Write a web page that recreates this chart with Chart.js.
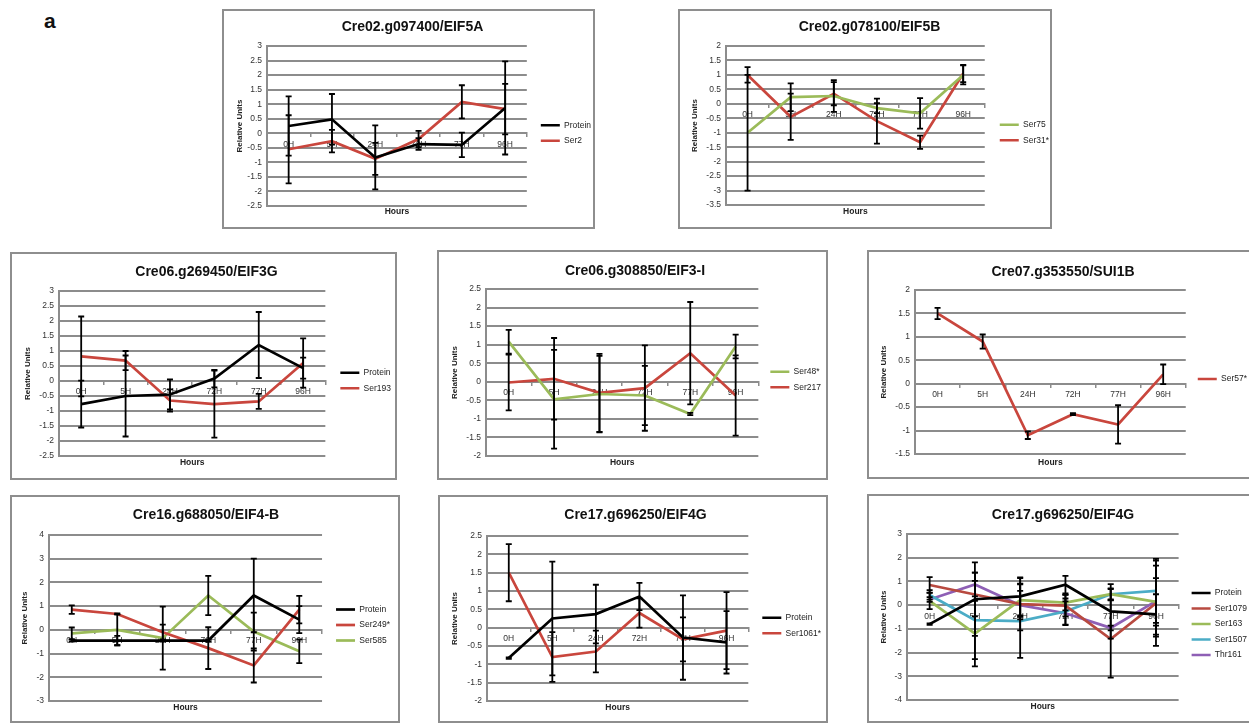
<!DOCTYPE html>
<html>
<head>
<meta charset="utf-8">
<script src="https://cdn.jsdelivr.net/npm/chart.js@4.4.1/dist/chart.umd.min.js"></script>
<style>
  body { margin: 0; background: #fff; width: 1249px; height: 725px; overflow: hidden; position: relative; font-family: "Liberation Sans", Arial, sans-serif; }
  .panel { position: absolute; border: 2px solid #8e8e8e; box-sizing: border-box; background: #fff; }
  .panel canvas { position: absolute; left: 0; top: 0; }
  .fig-label { position: absolute; left: 44px; top: 9px; font-weight: bold; font-size: 21px; color: #111; }
</style>
</head>
<body>
<div class="fig-label">a</div>
<div id="panels"></div>
<script>
// categories
const hours = ['0H', '5H', '24H', '72H', '77H', '96H']

// Cre02.g097400/EIF5A
const eif5aProtein = [0.25, 0.48, -0.83, -0.37, -0.40, 0.87]
const eif5aProteinErr = [1.02, 0.87, 1.10, 0.20, 0.42, 1.60]
const eif5aSer2 = [-0.55, -0.27, -0.88, -0.20, 1.08, 0.83]
const eif5aSer2Err = [1.17, 0.39, 0.55, 0.28, 0.57, 0.87]

// Cre02.g078100/EIF5B
const eif5bSer75 = [-1.0, 0.23, 0.27, -0.15, -0.33, 1.0]
const eif5bSer75Err = [2.0, 0.48, 0.55, 0.17, 0.53, 0.33]
const eif5bSer31 = [1.0, -0.45, 0.35, -0.60, -1.33, 1.05]
const eif5bSer31Err = [0.27, 0.80, 0.40, 0.78, 0.23, 0.30]

// Cre06.g269450/EIF3G
const eif3gProtein = [-0.77, -0.50, -0.45, 0.08, 1.20, 0.43]
const eif3gProteinErr = [0.78, 1.35, 0.50, 0.29, 1.10, 0.35]
const eif3gSer193 = [0.82, 0.68, -0.65, -0.77, -0.68, 0.60]
const eif3gSer193Err = [1.33, 0.32, 0.37, 1.12, 0.25, 0.82]

// Cre06.g308850/EIF3-I
const eif3iSer48 = [1.08, -0.47, -0.33, -0.37, -0.87, 0.95]
const eif3iSer48Err = [0.32, 1.33, 1.03, 0.80, 0.03, 0.32]
const eif3iSer217 = [-0.02, 0.08, -0.30, -0.17, 0.77, -0.37]
const eif3iSer217Err = [0.75, 1.10, 1.05, 1.15, 1.38, 1.08]

// Cre07.g353550/SUI1B
const sui1bSer57 = [1.50, 0.90, -1.10, -0.65, -0.87, 0.20]
const sui1bSer57Err = [0.12, 0.15, 0.08, 0.02, 0.41, 0.21]

// Cre16.g688050/EIF4-B
const eif4bProtein = [-0.45, -0.45, -0.45, -0.45, 1.45, 0.43]
const eif4bProteinErr = [0.05, 0.20, 0.05, 0.05, 1.55, 0.57]
const eif4bSer249 = [0.85, 0.67, -0.10, -0.77, -1.50, 0.85]
const eif4bSer249Err = [0.18, 0.02, 0.32, 0.88, 0.72, 0.58]
const eif4bSer585 = [-0.15, 0.0, -0.35, 1.45, -0.07, -0.90]
const eif4bSer585Err = [0.25, 0.65, 1.33, 0.83, 0.80, 0.50]

// Cre17.g696250/EIF4G (Ser1061)
const eif4gProtein = [-0.83, 0.25, 0.37, 0.85, -0.27, -0.40]
const eif4gProteinErr = [0.02, 1.55, 0.80, 0.37, 1.15, 0.85]
const eif4gSer1061 = [1.50, -0.80, -0.65, 0.40, -0.32, -0.08]
const eif4gSer1061Err = [0.78, 0.68, 0.57, 0.40, 0.60, 1.05]

// Cre17.g696250/EIF4G (other sites)
const eif4g2Protein = [-0.80, 0.25, 0.37, 0.86, -0.26, -0.39]
const eif4g2ProteinErr = [0.03, 1.55, 0.80, 0.37, 1.15, 0.85]
const eif4g2Ser1079 = [0.85, 0.45, 0.04, -0.02, -1.43, 0.08]
const eif4g2Ser1079Err = [0.33, 0.92, 1.10, 0.45, 1.63, 1.80]
const eif4g2Ser163 = [0.18, -1.20, 0.21, 0.11, 0.46, 0.14]
const eif4g2Ser163Err = [0.35, 1.38, 0.70, 0.33, 0.22, 1.00]
const eif4g2Ser1507 = [0.43, -0.63, -0.67, -0.27, 0.46, 0.60]
const eif4g2Ser1507Err = [0.20, 1.65, 1.55, 0.55, 0.25, 1.35]
const eif4g2Thr161 = [0.24, 0.87, 0.0, -0.34, -0.96, 0.17]
const eif4g2Thr161Err = [0.10, 0.50, 0.60, 0.50, 0.10, 1.50]

const BLACK = '#000000'
const RED = '#c9463d'
const DARKRED = '#b84a40'
const GREEN = '#9bbb59'
const TEAL = '#4bacc6'
const PURPLE = '#8e5fb5'
const GRID = '#8c8c8c'

const FONT = '"Liberation Sans", Arial, sans-serif'
const LEGEND_SIZE = 8.5

// panel layout: box = [left, top, width, height], plot = [left, top, right, bottom] in page pixels
const panels = [
    { title: 'Cre02.g097400/EIF5A', box: [222, 9, 373, 220], plot: [267, 46, 526, 206], titleY: 27, hoursY: 212, yTitleX: 240, legendX: 540,
      yMin: -2.5, yMax: 3, step: 0.5,
      series: [['Protein', eif5aProtein, eif5aProteinErr, BLACK], ['Ser2', eif5aSer2, eif5aSer2Err, RED]] },
    { title: 'Cre02.g078100/EIF5B', box: [678, 9, 374, 220], plot: [726, 46, 984, 205], titleY: 27, hoursY: 212, yTitleX: 695, legendX: 999,
      yMin: -3.5, yMax: 2, step: 0.5,
      series: [['Ser75', eif5bSer75, eif5bSer75Err, GREEN], ['Ser31*', eif5bSer31, eif5bSer31Err, RED]] },
    { title: 'Cre06.g269450/EIF3G', box: [10, 252, 387, 228], plot: [59, 291, 325, 456], titleY: 272, hoursY: 463, yTitleX: 28, legendX: 340,
      yMin: -2.5, yMax: 3, step: 0.5,
      series: [['Protein', eif3gProtein, eif3gProteinErr, BLACK], ['Ser193', eif3gSer193, eif3gSer193Err, RED]] },
    { title: 'Cre06.g308850/EIF3-I', box: [437, 250, 391, 230], plot: [486, 289, 758, 456], titleY: 271, hoursY: 463, yTitleX: 455, legendX: 770,
      yMin: -2, yMax: 2.5, step: 0.5,
      series: [['Ser48*', eif3iSer48, eif3iSer48Err, GREEN], ['Ser217', eif3iSer217, eif3iSer217Err, RED]] },
    { title: 'Cre07.g353550/SUI1B', box: [867, 250, 384, 229], plot: [915, 290, 1185, 454], titleY: 272, hoursY: 463, yTitleX: 884, legendX: 1197,
      yMin: -1.5, yMax: 2, step: 0.5,
      series: [['Ser57*', sui1bSer57, sui1bSer57Err, RED]] },
    { title: 'Cre16.g688050/EIF4-B', box: [10, 495, 390, 228], plot: [49, 535, 322, 701], titleY: 515, hoursY: 708, yTitleX: 25, legendX: 336,
      yMin: -3, yMax: 4, step: 1,
      series: [['Protein', eif4bProtein, eif4bProteinErr, BLACK], ['Ser249*', eif4bSer249, eif4bSer249Err, RED], ['Ser585', eif4bSer585, eif4bSer585Err, GREEN]] },
    { title: 'Cre17.g696250/EIF4G', box: [438, 495, 390, 228], plot: [487, 536, 748, 701], titleY: 515, hoursY: 708, yTitleX: 455, legendX: 762,
      yMin: -2, yMax: 2.5, step: 0.5,
      series: [['Protein', eif4gProtein, eif4gProteinErr, BLACK], ['Ser1061*', eif4gSer1061, eif4gSer1061Err, RED]] },
    { title: 'Cre17.g696250/EIF4G', box: [867, 494, 384, 229], plot: [907, 534, 1178, 700], titleY: 515, hoursY: 707, yTitleX: 884, legendX: 1191,
      yMin: -4, yMax: 3, step: 1,
      series: [['Protein', eif4g2Protein, eif4g2ProteinErr, BLACK], ['Ser1079', eif4g2Ser1079, eif4g2Ser1079Err, DARKRED],
               ['Ser163', eif4g2Ser163, eif4g2Ser163Err, GREEN], ['Ser1507', eif4g2Ser1507, eif4g2Ser1507Err, TEAL],
               ['Thr161', eif4g2Thr161, eif4g2Thr161Err, PURPLE]] }
]

Chart.defaults.font.family = FONT
Chart.defaults.color = '#222'

// black error bars, drawn from each dataset's errorBars array
const errorBarPlugin = {
    id: 'errorBars',
    afterDatasetsDraw(chart) {
        const ctx = chart.ctx
        const yScale = chart.scales.y
        ctx.save()
        ctx.strokeStyle = '#000'
        ctx.lineWidth = 1.8
        chart.data.datasets.forEach((ds, i) => {
            if (!ds.errorBars) return
            const meta = chart.getDatasetMeta(i)
            meta.data.forEach((pt, j) => {
                const v = ds.data[j]
                const e = ds.errorBars[j]
                const top = yScale.getPixelForValue(v + e)
                const bot = yScale.getPixelForValue(v - e)
                ctx.beginPath()
                ctx.moveTo(pt.x, top)
                ctx.lineTo(pt.x, bot)
                ctx.moveTo(pt.x - 3, top)
                ctx.lineTo(pt.x + 3, top)
                ctx.moveTo(pt.x - 3, bot)
                ctx.lineTo(pt.x + 3, bot)
                ctx.stroke()
            })
        })
        ctx.restore()
    }
}

// same sum the legend uses for its own width: padding + line + half font + text + 10
const measureCtx = document.createElement('canvas').getContext('2d')
function legendWidth(labels, pad, lineW) {
    measureCtx.font = LEGEND_SIZE + 'px ' + FONT
    let widest = 0
    labels.forEach((t) => { widest = Math.max(widest, measureCtx.measureText(t).width) })
    return Math.ceil(pad + lineW + LEGEND_SIZE / 2 + widest + 10)
}

function buildPanel(p) {
    const div = document.createElement('div')
    div.className = 'panel'
    div.style.left = p.box[0] + 'px'
    div.style.top = p.box[1] + 'px'
    div.style.width = p.box[2] + 'px'
    div.style.height = p.box[3] + 'px'
    const cw = p.box[2] - 4
    const ch = p.box[3] - 4
    const ox = p.box[0] + 2
    const oy = p.box[1] + 2
    const canvas = document.createElement('canvas')
    canvas.width = cw
    canvas.height = ch
    canvas.style.width = cw + 'px'
    canvas.style.height = ch + 'px'
    div.appendChild(canvas)
    document.getElementById('panels').appendChild(div)

    const L = p.plot[0] - ox
    const T = p.plot[1] - oy
    const R = p.plot[2] - ox
    const B = p.plot[3] - oy

    const titleLH = 16.8
    const tPadTop = (p.titleY - oy) - titleLH / 2
    const tPadBottom = T - tPadTop - titleLH
    const hoursLH = 10.2
    const hPadTop = Math.max((p.hoursY - oy) - hoursLH / 2 - B, 0)
    const hPadBottom = ch - B - hPadTop - hoursLH
    const legendPad = 7
    const lineW = 19
    const gap = (p.legendX - ox) - legendPad - R
    const legW = legendWidth(p.series.map((s) => s[0]), legendPad, lineW)
    const padRight = cw - R - gap - legW
    const yTitlePad = (p.yTitleX - ox) - 4.8

    const datasets = p.series.map((s) => ({
        label: s[0],
        data: s[1],
        errorBars: s[2],
        borderColor: s[3],
        backgroundColor: s[3],
        borderWidth: 2.7,
        pointRadius: 0,
        tension: 0,
        fill: false
    }))

    new Chart(canvas, {
        type: 'line',
        data: { labels: hours, datasets: datasets },
        plugins: [errorBarPlugin],
        options: {
            responsive: false,
            animation: false,
            devicePixelRatio: 1,
            events: [],
            layout: { padding: { left: 0, top: 0, bottom: 0, right: padRight } },
            plugins: {
                title: {
                    display: true,
                    text: p.title,
                    color: '#111',
                    font: { size: 14, weight: 'bold', lineHeight: 1.2 },
                    padding: { top: tPadTop, bottom: tPadBottom }
                },
                subtitle: {
                    display: true,
                    text: 'Hours',
                    position: 'bottom',
                    fullSize: false,
                    color: '#222',
                    font: { size: 8.5, weight: 'bold', lineHeight: 1.2 },
                    padding: { top: hPadTop, bottom: hPadBottom }
                },
                legend: {
                    position: 'right',
                    fullSize: false,
                    maxWidth: legW,
                    title: { display: true, text: ' ', padding: 0, font: { size: 10, lineHeight: 1.4 } },
                    labels: {
                        usePointStyle: true,
                        pointStyle: 'line',
                        pointStyleWidth: lineW,
                        padding: legendPad,
                        color: '#222',
                        font: { size: LEGEND_SIZE }
                    }
                },
                tooltip: { enabled: false }
            },
            scales: {
                x: {
                    type: 'category',
                    position: { y: 0 },
                    offset: true,
                    grid: { display: true, drawOnChartArea: false, drawTicks: true, tickLength: 3, color: GRID, lineWidth: 1.5, offset: true },
                    border: { display: true, color: GRID, width: 2 },
                    ticks: { font: { size: 8.5 }, color: '#333', padding: 3, maxRotation: 0, autoSkip: false }
                },
                y: {
                    type: 'linear',
                    position: 'left',
                    min: p.yMin,
                    max: p.yMax,
                    afterFit: (scale) => { scale.width = L },
                    grid: { color: GRID, lineWidth: 2, drawTicks: false },
                    border: { display: true, color: GRID, width: 2 },
                    ticks: { stepSize: p.step, font: { size: 8.5 }, color: '#333', padding: 5, callback: (v) => String(v) },
                    title: {
                        display: true,
                        text: 'Relative Units',
                        color: '#222',
                        font: { size: 8, weight: 'bold', lineHeight: 1.2 },
                        padding: { top: yTitlePad, bottom: 0 }
                    }
                },
                gap: {
                    type: 'linear',
                    position: 'right',
                    display: true,
                    grid: { display: false },
                    border: { display: false },
                    ticks: { display: false },
                    afterFit: (scale) => { scale.width = gap }
                }
            }
        }
    })
}

panels.forEach((p) => buildPanel(p))
</script>
</body>
</html>
